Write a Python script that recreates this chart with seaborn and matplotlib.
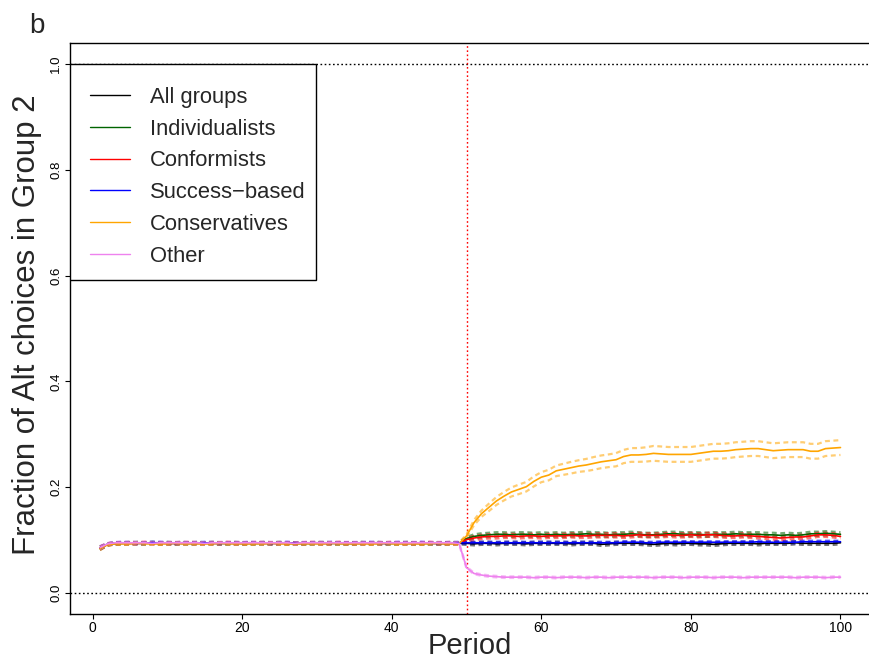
import matplotlib
matplotlib.use("Agg")
import matplotlib.pyplot as plt
from matplotlib.lines import Line2D
from matplotlib.patches import Rectangle
import seaborn as sns

# ---- data -------------------------------------------------------------
periods = list(range(1, 101))

series_names = ["All groups", "Individualists", "Conformists",
                "Success\u2212based", "Conservatives", "Other"]
series_colors = ["black", "#006400", "#FF0000", "#0000FF", "#FFA500", "#EE82EE"]

all_groups = [
    0.085, 0.092, 0.094, 0.094, 0.095, 0.094, 0.094, 0.095, 0.094, 0.094,
    0.094, 0.095, 0.094, 0.094, 0.094, 0.095, 0.094, 0.094, 0.094, 0.094,
    0.094, 0.094, 0.095, 0.094, 0.094, 0.094, 0.094, 0.094, 0.094, 0.095,
    0.094, 0.094, 0.094, 0.094, 0.094, 0.094, 0.094, 0.095, 0.094, 0.094,
    0.094, 0.094, 0.094, 0.094, 0.094, 0.094, 0.094, 0.094, 0.094, 0.094,
    0.093, 0.094, 0.094, 0.093, 0.094, 0.094, 0.094, 0.093, 0.094, 0.094,
    0.094, 0.094, 0.094, 0.093, 0.094, 0.094, 0.094, 0.092, 0.093, 0.094,
    0.094, 0.094, 0.094, 0.093, 0.092, 0.093, 0.094, 0.093, 0.094, 0.094,
    0.093, 0.093, 0.092, 0.093, 0.094, 0.094, 0.094, 0.094, 0.093, 0.094,
    0.094, 0.094, 0.094, 0.095, 0.094, 0.094, 0.094, 0.094, 0.094, 0.095]

individualists = [
    0.085, 0.092, 0.094, 0.094, 0.094, 0.095, 0.094, 0.094, 0.094, 0.095,
    0.094, 0.094, 0.094, 0.095, 0.094, 0.094, 0.094, 0.094, 0.095, 0.094,
    0.094, 0.094, 0.094, 0.094, 0.095, 0.094, 0.094, 0.094, 0.094, 0.094,
    0.095, 0.094, 0.094, 0.094, 0.094, 0.095, 0.094, 0.094, 0.094, 0.094,
    0.094, 0.095, 0.094, 0.094, 0.094, 0.094, 0.094, 0.095, 0.094, 0.103,
    0.107, 0.109, 0.110, 0.111, 0.111, 0.110, 0.111, 0.111, 0.110, 0.111,
    0.110, 0.111, 0.110, 0.111, 0.111, 0.112, 0.111, 0.111, 0.110, 0.111,
    0.111, 0.112, 0.111, 0.110, 0.110, 0.111, 0.112, 0.112, 0.111, 0.111,
    0.111, 0.110, 0.111, 0.111, 0.111, 0.112, 0.111, 0.111, 0.111, 0.110,
    0.110, 0.109, 0.110, 0.109, 0.110, 0.112, 0.112, 0.113, 0.112, 0.111]

conformists = [
    0.085, 0.092, 0.094, 0.094, 0.094, 0.094, 0.095, 0.094, 0.094, 0.094,
    0.094, 0.094, 0.095, 0.094, 0.094, 0.094, 0.094, 0.095, 0.094, 0.094,
    0.094, 0.095, 0.094, 0.094, 0.094, 0.094, 0.094, 0.094, 0.095, 0.094,
    0.094, 0.094, 0.095, 0.094, 0.094, 0.094, 0.094, 0.094, 0.094, 0.095,
    0.094, 0.094, 0.094, 0.094, 0.095, 0.094, 0.094, 0.094, 0.094, 0.101,
    0.104, 0.106, 0.107, 0.107, 0.108, 0.108, 0.107, 0.108, 0.108, 0.107,
    0.108, 0.108, 0.108, 0.109, 0.108, 0.108, 0.109, 0.109, 0.109, 0.109,
    0.108, 0.109, 0.110, 0.109, 0.109, 0.109, 0.110, 0.109, 0.109, 0.110,
    0.109, 0.110, 0.110, 0.109, 0.108, 0.108, 0.109, 0.108, 0.107, 0.106,
    0.105, 0.104, 0.105, 0.106, 0.106, 0.108, 0.110, 0.110, 0.109, 0.107]

success_based = [
    0.085, 0.092, 0.094, 0.095, 0.094, 0.094, 0.094, 0.095, 0.095, 0.094,
    0.094, 0.094, 0.094, 0.094, 0.095, 0.094, 0.094, 0.094, 0.094, 0.094,
    0.095, 0.094, 0.094, 0.094, 0.094, 0.095, 0.094, 0.094, 0.094, 0.094,
    0.094, 0.095, 0.094, 0.094, 0.094, 0.094, 0.095, 0.094, 0.094, 0.094,
    0.095, 0.094, 0.094, 0.095, 0.094, 0.094, 0.094, 0.094, 0.095, 0.095,
    0.095, 0.095, 0.095, 0.095, 0.095, 0.095, 0.095, 0.095, 0.095, 0.095,
    0.095, 0.095, 0.095, 0.095, 0.095, 0.095, 0.095, 0.095, 0.095, 0.095,
    0.096, 0.096, 0.096, 0.095, 0.095, 0.096, 0.096, 0.096, 0.096, 0.096,
    0.096, 0.096, 0.096, 0.096, 0.096, 0.096, 0.096, 0.096, 0.097, 0.096,
    0.096, 0.096, 0.096, 0.096, 0.097, 0.097, 0.097, 0.097, 0.097, 0.097]

conservatives = [
    0.084, 0.091, 0.093, 0.093, 0.093, 0.094, 0.093, 0.093, 0.093, 0.093,
    0.094, 0.093, 0.093, 0.093, 0.093, 0.093, 0.094, 0.093, 0.093, 0.093,
    0.093, 0.093, 0.093, 0.094, 0.093, 0.093, 0.093, 0.093, 0.093, 0.093,
    0.093, 0.094, 0.093, 0.093, 0.093, 0.093, 0.093, 0.093, 0.094, 0.093,
    0.093, 0.093, 0.093, 0.093, 0.093, 0.094, 0.093, 0.093, 0.093, 0.108,
    0.133, 0.150, 0.162, 0.174, 0.183, 0.191, 0.196, 0.201, 0.211, 0.219,
    0.223, 0.231, 0.234, 0.237, 0.240, 0.242, 0.245, 0.248, 0.250, 0.252,
    0.258, 0.261, 0.261, 0.262, 0.264, 0.263, 0.262, 0.262, 0.262, 0.262,
    0.264, 0.266, 0.268, 0.268, 0.269, 0.271, 0.272, 0.273, 0.273, 0.271,
    0.269, 0.270, 0.271, 0.271, 0.271, 0.268, 0.268, 0.273, 0.274, 0.275]

other = [
    0.086, 0.093, 0.095, 0.095, 0.095, 0.095, 0.095, 0.094, 0.095, 0.095,
    0.095, 0.095, 0.095, 0.095, 0.094, 0.095, 0.095, 0.095, 0.095, 0.095,
    0.095, 0.095, 0.095, 0.095, 0.095, 0.095, 0.094, 0.095, 0.095, 0.095,
    0.095, 0.095, 0.095, 0.095, 0.095, 0.095, 0.095, 0.095, 0.095, 0.095,
    0.095, 0.095, 0.095, 0.095, 0.095, 0.095, 0.095, 0.095, 0.094, 0.048,
    0.037, 0.034, 0.032, 0.031, 0.030, 0.030, 0.030, 0.030, 0.029, 0.030,
    0.030, 0.029, 0.030, 0.030, 0.030, 0.029, 0.030, 0.030, 0.029, 0.030,
    0.030, 0.030, 0.030, 0.030, 0.029, 0.030, 0.030, 0.030, 0.029, 0.030,
    0.030, 0.030, 0.029, 0.030, 0.030, 0.030, 0.029, 0.030, 0.030, 0.030,
    0.030, 0.030, 0.030, 0.029, 0.030, 0.030, 0.030, 0.029, 0.030, 0.030]

# half-widths of the 95% confidence bands
all_groups_ci = [
    0.003, 0.002, 0.002, 0.002, 0.002, 0.002, 0.002, 0.002, 0.002, 0.002,
    0.002, 0.002, 0.002, 0.002, 0.002, 0.002, 0.002, 0.002, 0.002, 0.002,
    0.002, 0.002, 0.002, 0.002, 0.002, 0.002, 0.002, 0.002, 0.002, 0.002,
    0.002, 0.002, 0.002, 0.002, 0.002, 0.002, 0.002, 0.002, 0.002, 0.002,
    0.002, 0.002, 0.002, 0.002, 0.002, 0.002, 0.002, 0.002, 0.002, 0.003,
    0.003, 0.003, 0.003, 0.003, 0.003, 0.003, 0.003, 0.003, 0.003, 0.003,
    0.003, 0.003, 0.003, 0.003, 0.003, 0.003, 0.003, 0.003, 0.003, 0.003,
    0.003, 0.003, 0.003, 0.003, 0.003, 0.003, 0.003, 0.003, 0.003, 0.003,
    0.003, 0.003, 0.003, 0.003, 0.003, 0.003, 0.003, 0.003, 0.003, 0.003,
    0.003, 0.003, 0.003, 0.003, 0.003, 0.003, 0.003, 0.003, 0.003, 0.003]

individualists_ci = [
    0.003, 0.002, 0.002, 0.002, 0.002, 0.002, 0.002, 0.002, 0.002, 0.002,
    0.002, 0.002, 0.002, 0.002, 0.002, 0.002, 0.002, 0.002, 0.002, 0.002,
    0.002, 0.002, 0.002, 0.002, 0.002, 0.002, 0.002, 0.002, 0.002, 0.002,
    0.002, 0.002, 0.002, 0.002, 0.002, 0.002, 0.002, 0.002, 0.002, 0.002,
    0.002, 0.002, 0.002, 0.002, 0.002, 0.002, 0.002, 0.002, 0.002, 0.003,
    0.004, 0.004, 0.004, 0.004, 0.004, 0.004, 0.004, 0.004, 0.004, 0.004,
    0.004, 0.004, 0.004, 0.004, 0.004, 0.004, 0.004, 0.004, 0.004, 0.004,
    0.004, 0.004, 0.004, 0.004, 0.004, 0.004, 0.004, 0.004, 0.004, 0.004,
    0.004, 0.004, 0.004, 0.004, 0.004, 0.004, 0.004, 0.004, 0.004, 0.004,
    0.004, 0.004, 0.004, 0.004, 0.004, 0.004, 0.004, 0.004, 0.004, 0.004]

conformists_ci = [
    0.003, 0.002, 0.002, 0.002, 0.002, 0.002, 0.002, 0.002, 0.002, 0.002,
    0.002, 0.002, 0.002, 0.002, 0.002, 0.002, 0.002, 0.002, 0.002, 0.002,
    0.002, 0.002, 0.002, 0.002, 0.002, 0.002, 0.002, 0.002, 0.002, 0.002,
    0.002, 0.002, 0.002, 0.002, 0.002, 0.002, 0.002, 0.002, 0.002, 0.002,
    0.002, 0.002, 0.002, 0.002, 0.002, 0.002, 0.002, 0.002, 0.002, 0.003,
    0.004, 0.004, 0.004, 0.004, 0.004, 0.004, 0.004, 0.004, 0.004, 0.004,
    0.004, 0.004, 0.004, 0.004, 0.004, 0.004, 0.004, 0.004, 0.004, 0.004,
    0.004, 0.004, 0.004, 0.004, 0.004, 0.004, 0.004, 0.004, 0.004, 0.004,
    0.004, 0.004, 0.004, 0.004, 0.004, 0.004, 0.004, 0.004, 0.004, 0.004,
    0.004, 0.004, 0.004, 0.004, 0.004, 0.004, 0.004, 0.004, 0.004, 0.004]

success_based_ci = [
    0.003, 0.002, 0.002, 0.002, 0.002, 0.002, 0.002, 0.002, 0.002, 0.002,
    0.002, 0.002, 0.002, 0.002, 0.002, 0.002, 0.002, 0.002, 0.002, 0.002,
    0.002, 0.002, 0.002, 0.002, 0.002, 0.002, 0.002, 0.002, 0.002, 0.002,
    0.002, 0.002, 0.002, 0.002, 0.002, 0.002, 0.002, 0.002, 0.002, 0.002,
    0.002, 0.002, 0.002, 0.002, 0.002, 0.002, 0.002, 0.002, 0.002, 0.002,
    0.002, 0.002, 0.002, 0.002, 0.002, 0.002, 0.002, 0.002, 0.002, 0.002,
    0.002, 0.002, 0.002, 0.002, 0.002, 0.002, 0.002, 0.002, 0.002, 0.002,
    0.002, 0.002, 0.002, 0.002, 0.002, 0.002, 0.002, 0.002, 0.002, 0.002,
    0.002, 0.002, 0.002, 0.002, 0.002, 0.002, 0.002, 0.002, 0.002, 0.002,
    0.002, 0.002, 0.002, 0.002, 0.002, 0.002, 0.002, 0.002, 0.002, 0.002]

conservatives_ci = [
    0.003, 0.002, 0.002, 0.002, 0.002, 0.002, 0.002, 0.002, 0.002, 0.002,
    0.002, 0.002, 0.002, 0.002, 0.002, 0.002, 0.002, 0.002, 0.002, 0.002,
    0.002, 0.002, 0.002, 0.002, 0.002, 0.002, 0.002, 0.002, 0.002, 0.002,
    0.002, 0.002, 0.002, 0.002, 0.002, 0.002, 0.002, 0.002, 0.002, 0.002,
    0.002, 0.002, 0.002, 0.002, 0.002, 0.002, 0.002, 0.002, 0.002, 0.003,
    0.005, 0.006, 0.007, 0.0075, 0.008, 0.0085, 0.009, 0.009, 0.0095, 0.0095,
    0.010, 0.010, 0.0105, 0.011, 0.011, 0.0115, 0.012, 0.012, 0.012, 0.0125,
    0.0125, 0.013, 0.013, 0.0135, 0.014, 0.014, 0.014, 0.014, 0.014, 0.014,
    0.014, 0.014, 0.014, 0.014, 0.014, 0.014, 0.014, 0.014, 0.014, 0.014,
    0.014, 0.014, 0.014, 0.014, 0.014, 0.014, 0.014, 0.014, 0.014, 0.014]

other_ci = [
    0.003, 0.002, 0.002, 0.002, 0.002, 0.002, 0.002, 0.002, 0.002, 0.002,
    0.002, 0.002, 0.002, 0.002, 0.002, 0.002, 0.002, 0.002, 0.002, 0.002,
    0.002, 0.002, 0.002, 0.002, 0.002, 0.002, 0.002, 0.002, 0.002, 0.002,
    0.002, 0.002, 0.002, 0.002, 0.002, 0.002, 0.002, 0.002, 0.002, 0.002,
    0.002, 0.002, 0.002, 0.002, 0.002, 0.002, 0.002, 0.002, 0.002, 0.002,
    0.0015, 0.0015, 0.0015, 0.0015, 0.0015, 0.0015, 0.0015, 0.0015, 0.0015, 0.0015,
    0.0015, 0.0015, 0.0015, 0.0015, 0.0015, 0.0015, 0.0015, 0.0015, 0.0015, 0.0015,
    0.0015, 0.0015, 0.0015, 0.0015, 0.0015, 0.0015, 0.0015, 0.0015, 0.0015, 0.0015,
    0.0015, 0.0015, 0.0015, 0.0015, 0.0015, 0.0015, 0.0015, 0.0015, 0.0015, 0.0015,
    0.0015, 0.0015, 0.0015, 0.0015, 0.0015, 0.0015, 0.0015, 0.0015, 0.0015, 0.0015]

series_means = [all_groups, individualists, conformists,
                success_based, conservatives, other]
series_cis = [all_groups_ci, individualists_ci, conformists_ci,
              success_based_ci, conservatives_ci, other_ci]

x_ticks = [0, 20, 40, 60, 80, 100]
y_ticks = [0.0, 0.2, 0.4, 0.6, 0.8, 1.0]
y_tick_labels = ["0.0", "0.2", "0.4", "0.6", "0.8", "1.0"]
switch_period = 50

# ---- style ------------------------------------------------------------
sns.set_style("ticks")
plt.rcParams["font.family"] = ["Liberation Sans", "DejaVu Sans"]

W, H = 869, 663
fig = plt.figure(figsize=(W / 100, H / 100), dpi=100)
ax_left, ax_right, ax_top, ax_bottom = 70.4, 870.1, 42.8, 614.2
ax = fig.add_axes([ax_left / W, 1 - ax_bottom / H,
                   (ax_right - ax_left) / W, (ax_bottom - ax_top) / H])

dot = (0, (1.2, 1.8))
ax.axhline(0, color="black", lw=1.0, linestyle=dot, zorder=1)
ax.axhline(1, color="black", lw=1.0, linestyle=dot, zorder=1)
ax.axvline(switch_period, color="#FF0000", lw=1.0, linestyle=dot, zorder=1)

band_dash = (0, (2.2, 1.6))
for name, color, mean, ci in zip(series_names, series_colors,
                                 series_means, series_cis):
    lower = [m - c for m, c in zip(mean, ci)]
    upper = [m + c for m, c in zip(mean, ci)]
    for band in (lower, upper):
        sns.lineplot(x=periods, y=band, color=color, linewidth=1.6,
                     linestyle=band_dash, alpha=0.55, errorbar=None,
                     legend=False, ax=ax, zorder=2)
    sns.lineplot(x=periods, y=mean, color=color, linewidth=1.2,
                 errorbar=None, legend=False, ax=ax, zorder=3)

ax.set_xlim(-2.96, 103.96)
ax.set_ylim(-0.04, 1.04)
ax.set_xticks(x_ticks)
ax.set_xticklabels([str(t) for t in x_ticks])
ax.set_yticks(y_ticks)
ax.set_yticklabels(y_tick_labels)

for side in ["left", "bottom", "top", "right"]:
    ax.spines[side].set_visible(True)
    ax.spines[side].set_color("black")
    ax.spines[side].set_linewidth(1.0)

ax.tick_params(axis="both", direction="out", length=3.4, width=0.8,
               color="black", labelcolor="black")
ax.tick_params(axis="x", labelsize=10, pad=1.5)
ax.tick_params(axis="y", labelsize=9.5, pad=2.5, labelrotation=90)
for lab in ax.get_yticklabels():
    lab.set_va("center")

ax.set_xlabel("Period", fontsize=21)
ax.set_ylabel("Fraction of Alt choices in Group 2", fontsize=22.5)
ax.xaxis.set_label_coords(0.5, -0.031)
ax.yaxis.set_label_coords(-0.036, 0.506)

# legend box: white panel with a thin black border, hanging from y = 1
legend_box = Rectangle((0.0, 0.585), 0.307, 0.963 - 0.585,
                       transform=ax.transAxes, facecolor="white",
                       edgecolor="black", linewidth=1.0, zorder=4)
ax.add_patch(legend_box)

handles = [Line2D([], [], color=c, lw=1.0) for c in series_colors]
leg = ax.legend(handles, series_names, loc="upper left",
                bbox_to_anchor=(0.0245, 0.9230), fontsize=15.8,
                frameon=False, borderpad=0.0, labelspacing=0.49,
                handlelength=1.82, handletextpad=0.9,
                borderaxespad=0.0)
leg.set_zorder(5)

fig.text(29 / W, 1 - 33 / H, "b", fontsize=20, va="baseline", ha="left")

fig.savefig("out.png", dpi=100)
